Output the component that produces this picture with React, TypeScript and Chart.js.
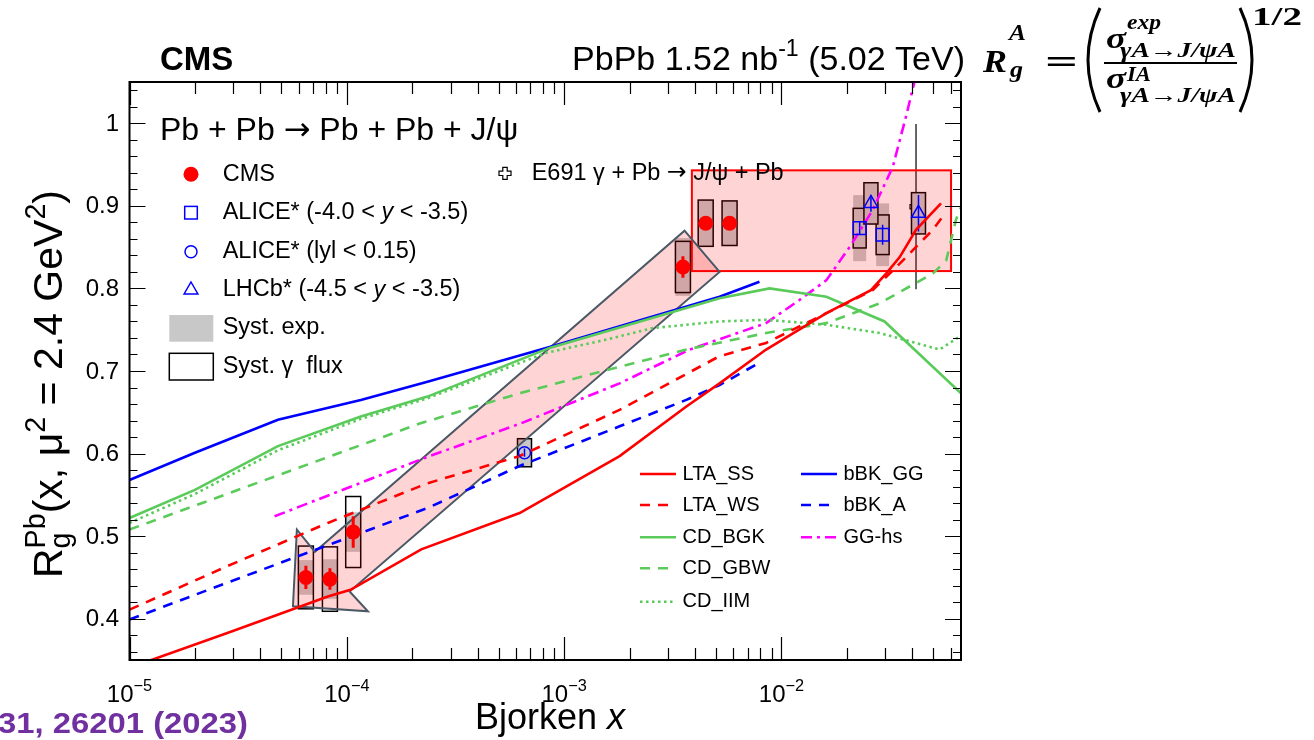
import React, { useEffect, useRef } from 'react';
import { Chart, registerables } from 'chart.js';

Chart.register(...registerables);

const SANS = '"Liberation Sans", Arial, Helvetica, sans-serif';
const SERIF = '"Liberation Serif", "Times New Roman", serif';
const DEJAVU = '"DejaVu Sans", sans-serif';

// ---- axes ----
const xRange = [1e-5, 0.067];
const yRange = [0.35, 1.05];
const xDecades = [1e-5, 1e-4, 1e-3, 1e-2];
const xDecadeExps = ['\u22125', '\u22124', '\u22123', '\u22122'];
const yMajor = [0.4, 0.5, 0.6, 0.7, 0.8, 0.9, 1.0];
const yMajorLabels = ['0.4', '0.5', '0.6', '0.7', '0.8', '0.9', '1'];

// ---- CMS data ----
const cmsX = [6.48e-5, 8.36e-5, 1.07e-4, 3.52e-3, 4.48e-3, 5.77e-3];
const cmsY = [0.45, 0.448, 0.505, 0.826, 0.879, 0.879];
const cmsStat = [0.014, 0.013, 0.019, 0.013, 0.006, 0.006];
const cmsSystExp = [0.021, 0.024, 0.024, 0.035, 0.028, 0.027];
const cmsSystFlux = [0.038, 0.039, 0.043, 0.031, 0.028, 0.027];

// ---- ALICE forward (-4.0 < y < -3.5) ----
const aliceFwdX = [0.0229, 0.0292];
const aliceFwdY = [0.873, 0.865];
const aliceFwdStat = [0.008, 0.012];
const aliceFwdSystExp = [0.04, 0.038];
const aliceFwdSystFlux = [0.024, 0.024];

// ---- ALICE central (|y| < 0.15) ----
const aliceCenX = [6.57e-4];
const aliceCenY = [0.601];
const aliceCenStat = [0.005];
const aliceCenSystExp = [0.017];
const aliceCenSystFlux = [0.017];

// ---- LHCb ----
const lhcbX = [0.0258, 0.0427];
const lhcbY = [0.903, 0.891];
const lhcbStat = [0.01, 0.022];
const lhcbSystExp = [0.025, 0.025];
const lhcbSystFlux = [0.025, 0.025];

// ---- E691 ----
const e691X = [0.0416];
const e691Y = [0.899];
const e691Err = [0.1];

// ---- shaded regions ----
const rectX = [3.87e-3, 0.0603];
const rectY = [0.821, 0.943];
const arrowX = [5.89e-5, 7.13e-5, 3.58e-3, 5.19e-3, 1.03e-4, 1.25e-4, 5.65e-5];
const arrowY = [0.508, 0.481, 0.87, 0.82, 0.433, 0.409, 0.415];

// ---- model curves ----
const ltaSsX = [1.2e-5, 2.84e-5, 8.18e-5, 1.04e-4, 2.2e-4, 6.24e-4, 1.8e-3, 3.65e-3, 5.19e-3, 8.5e-3, 1.61e-2, 2.58e-2, 3.03e-2, 3.5e-2, 4.16e-2, 5.42e-2];
const ltaSsY = [0.348, 0.383, 0.427, 0.435, 0.484, 0.528, 0.597, 0.657, 0.685, 0.726, 0.77, 0.798, 0.818, 0.838, 0.871, 0.903];

const ltaWsX = [1e-5, 2.84e-5, 8.18e-5, 2.35e-4, 6.24e-4, 1.8e-3, 5.19e-3, 8.5e-3, 1.61e-2, 2.63e-2, 3.5e-2, 4.97e-2, 5.52e-2];
const ltaWsY = [0.411, 0.464, 0.516, 0.564, 0.597, 0.653, 0.718, 0.734, 0.77, 0.798, 0.83, 0.871, 0.887];

const cdBgkX = [1e-5, 2e-5, 4.82e-5, 1.16e-4, 2.35e-4, 8.57e-4, 5.19e-3, 8.81e-3, 1.61e-2, 2.98e-2, 6.7e-2];
const cdBgkY = [0.522, 0.556, 0.609, 0.645, 0.669, 0.728, 0.788, 0.8, 0.79, 0.76, 0.673];

const cdGbwX = [1e-5, 2.2e-4, 6.24e-4, 1.56e-3, 3.65e-3, 8.5e-3, 1.61e-2, 2.83e-2, 4.97e-2, 5.73e-2, 6.35e-2, 7e-2];
const cdGbwY = [0.508, 0.637, 0.673, 0.701, 0.726, 0.746, 0.758, 0.782, 0.818, 0.834, 0.883, 0.911];

const cdIimX = [1e-5, 2e-5, 4.82e-5, 1.16e-4, 2.35e-4, 8.28e-4, 1.56e-3, 2.56e-3, 5.19e-3, 8.5e-3, 1.61e-2, 2.83e-2, 5.34e-2, 7e-2];
const cdIimY = [0.516, 0.551, 0.604, 0.642, 0.667, 0.722, 0.738, 0.752, 0.76, 0.762, 0.756, 0.746, 0.726, 0.746];

const bbkGgX = [1e-5, 2e-5, 4.82e-5, 1.16e-4, 2.35e-4, 8.57e-4, 5.19e-3, 7.92e-3];
const bbkGgY = [0.568, 0.601, 0.641, 0.665, 0.687, 0.729, 0.79, 0.808];

const bbkAX = [1e-5, 2.84e-5, 2.35e-4, 6.24e-4, 1.8e-3, 3.65e-3, 5.19e-3, 7.92e-3];
const bbkAY = [0.399, 0.444, 0.534, 0.585, 0.633, 0.665, 0.683, 0.71];

const ggHsX = [4.65e-5, 2.35e-4, 6.24e-4, 1.8e-3, 3.78e-3, 8.5e-3, 1.21e-2, 1.61e-2, 2.07e-2, 2.63e-2, 3.25e-2, 3.74e-2, 4.09e-2, 4.3e-2];
const ggHsY = [0.524, 0.596, 0.636, 0.685, 0.726, 0.758, 0.786, 0.81, 0.851, 0.895, 0.947, 1.008, 1.05, 1.08];

// ---- styles ----
const RED = '#ff0000';
const BLUE = '#0000ff';
const GREEN = '#5acb5a';
const MAGENTA = '#ff00ff';
const PINK = 'rgba(255,0,0,0.17)';
const GRAY = '#c8c8c8';
const SLATE = '#4b5866';
const DASH = [10, 8];
const DOT = [2.5, 3.5];
const DASHDOT = [11, 5, 3, 5];

const pts = (xs: number[], ys: number[]) => xs.map((x, i) => ({ x, y: ys[i] }));

const curve = (label: string, xs: number[], ys: number[], color: string, dash: number[]) => ({
  label,
  data: pts(xs, ys),
  showLine: true,
  borderColor: color,
  backgroundColor: color,
  borderWidth: 2.6,
  borderDash: dash,
  pointRadius: 0,
  fill: false,
  tension: 0,
  clip: 0,
  order: 2,
});

type Seg = { t?: string; s?: number; dy?: number; i?: boolean; b?: boolean; sup?: string; sub?: string; f?: string };

function segFont(seg: Seg, base: number, fam: string, scale = 1) {
  return `${seg.i ? 'italic ' : ''}${seg.b ? 'bold ' : ''}${(base * scale).toFixed(1)}px ${seg.f ?? fam}`;
}

function segWidth(ctx: CanvasRenderingContext2D, seg: Seg, base: number, fam: string) {
  if (seg.sup !== undefined || seg.sub !== undefined) {
    ctx.font = segFont(seg, base, fam, 0.7);
    return Math.max(ctx.measureText(seg.sup || '').width, ctx.measureText(seg.sub || '').width);
  }
  ctx.font = segFont(seg, base, fam, seg.s ?? 1);
  return ctx.measureText(seg.t || '').width;
}

function drawRich(ctx: CanvasRenderingContext2D, segs: Seg[], x: number, y: number, base: number, fam: string, align: 'left' | 'center' | 'right' = 'left') {
  let w = 0;
  for (const s of segs) w += segWidth(ctx, s, base, fam);
  let cx = align === 'left' ? x : align === 'center' ? x - w / 2 : x - w;
  ctx.textAlign = 'left';
  for (const s of segs) {
    const sw = segWidth(ctx, s, base, fam);
    if (s.sup !== undefined || s.sub !== undefined) {
      ctx.font = segFont(s, base, fam, 0.7);
      if (s.sup) ctx.fillText(s.sup, cx, y - 0.42 * base);
      if (s.sub) ctx.fillText(s.sub, cx, y + 0.2 * base);
    } else {
      ctx.font = segFont(s, base, fam, s.s ?? 1);
      ctx.fillText(s.t || '', cx, y + (s.dy ?? 0) * base);
    }
    cx += sw;
  }
}

function fitText(ctx: CanvasRenderingContext2D, text: string, x: number, y: number, font: string, width?: number) {
  ctx.font = font;
  ctx.textAlign = 'left';
  if (width) {
    const w = ctx.measureText(text).width;
    ctx.save();
    ctx.translate(x, y);
    ctx.scale(width / w, 1);
    ctx.fillText(text, 0, 0);
    ctx.restore();
  } else {
    ctx.fillText(text, x, y);
  }
}

function openCross(ctx: CanvasRenderingContext2D, x: number, y: number, L: number, h: number) {
  const p = [[-h, -L], [h, -L], [h, -h], [L, -h], [L, h], [h, h], [h, L], [-h, L], [-h, h], [-L, h], [-L, -h], [-h, -h]];
  ctx.beginPath();
  p.forEach(([a, b], i) => (i ? ctx.lineTo(x + a, y + b) : ctx.moveTo(x + a, y + b)));
  ctx.closePath();
  ctx.fillStyle = '#fff';
  ctx.fill();
  ctx.stroke();
}

const rootPlugin = {
  id: 'rootStyle',
  beforeDatasetsDraw(chart: any) {
    const { ctx, chartArea: a } = chart;
    const X = (v: number) => chart.scales.x.getPixelForValue(v);
    const Y = (v: number) => chart.scales.y.getPixelForValue(v);
    ctx.save();
    ctx.beginPath();
    ctx.rect(a.left, a.top, a.right - a.left, a.bottom - a.top);
    ctx.clip();

    // E691 point
    ctx.strokeStyle = '#000';
    ctx.lineWidth = 1.2;
    e691X.forEach((x, i) => {
      const px = X(x);
      ctx.beginPath();
      ctx.moveTo(px, Y(e691Y[i] - e691Err[i]));
      ctx.lineTo(px, Y(e691Y[i] + e691Err[i]));
      ctx.stroke();
      openCross(ctx, px, Y(e691Y[i]), 6, 2.2);
    });

    // systematic boxes
    const boxes = (xs: number[], ys: number[], exp: number[], flux: number[], hw: number) => {
      xs.forEach((x, i) => {
        const px = X(x);
        ctx.fillStyle = GRAY;
        const t1 = Y(ys[i] + exp[i]), b1 = Y(ys[i] - exp[i]);
        ctx.fillRect(px - hw, t1, 2 * hw, b1 - t1);
      });
      xs.forEach((x, i) => {
        const px = X(x);
        ctx.strokeStyle = '#000';
        ctx.lineWidth = 1.5;
        const t2 = Y(ys[i] + flux[i]), b2 = Y(ys[i] - flux[i]);
        ctx.strokeRect(px - hw, t2, 2 * hw, b2 - t2);
      });
    };
    boxes(cmsX, cmsY, cmsSystExp, cmsSystFlux, 7.5);
    boxes(aliceCenX, aliceCenY, aliceCenSystExp, aliceCenSystFlux, 7);
    boxes(aliceFwdX, aliceFwdY, aliceFwdSystExp, aliceFwdSystFlux, 6.5);
    boxes(lhcbX, lhcbY, lhcbSystExp, lhcbSystFlux, 7);

    // pink rectangle
    const rx0 = X(rectX[0]), rx1 = X(rectX[1]), ry0 = Y(rectY[1]), ry1 = Y(rectY[0]);
    ctx.fillStyle = PINK;
    ctx.fillRect(rx0, ry0, rx1 - rx0, ry1 - ry0);
    ctx.strokeStyle = RED;
    ctx.lineWidth = 2;
    ctx.strokeRect(rx0, ry0, rx1 - rx0, ry1 - ry0);

    // arrow polygon
    ctx.beginPath();
    arrowX.forEach((x, i) => (i ? ctx.lineTo(X(x), Y(arrowY[i])) : ctx.moveTo(X(x), Y(arrowY[i]))));
    ctx.closePath();
    ctx.fillStyle = PINK;
    ctx.fill();
    ctx.strokeStyle = SLATE;
    ctx.lineWidth = 2;
    ctx.stroke();

    // stat error bars
    const bars = (xs: number[], ys: number[], err: number[], color: string, w: number) => {
      ctx.strokeStyle = color;
      ctx.lineWidth = w;
      xs.forEach((x, i) => {
        const px = X(x);
        ctx.beginPath();
        ctx.moveTo(px, Y(ys[i] - err[i]));
        ctx.lineTo(px, Y(ys[i] + err[i]));
        ctx.stroke();
      });
    };
    bars(cmsX, cmsY, cmsStat, RED, 3);
    bars(aliceFwdX, aliceFwdY, aliceFwdStat, BLUE, 1.5);
    bars(aliceCenX, aliceCenY, aliceCenStat, BLUE, 1.5);
    bars(lhcbX, lhcbY, lhcbStat, BLUE, 1.5);
    ctx.restore();
  },
  afterDraw(chart: any) {
    const { ctx, chartArea: a } = chart;
    const X = (v: number) => chart.scales.x.getPixelForValue(v);
    const Y = (v: number) => chart.scales.y.getPixelForValue(v);
    ctx.save();
    ctx.textBaseline = 'alphabetic';
    ctx.fillStyle = '#000';
    ctx.strokeStyle = '#000';

    // ticks
    ctx.lineWidth = 1.2;
    ctx.beginPath();
    for (let k = -5; k <= -2; k++) {
      for (let m = 1; m <= 9; m++) {
        const v = m * Math.pow(10, k);
        if (v < xRange[0] || v > xRange[1]) continue;
        const px = Math.round(X(v)) + 0.5;
        const len = m === 1 ? 23 : 12;
        ctx.moveTo(px, a.bottom);
        ctx.lineTo(px, a.bottom - len);
        ctx.moveTo(px, a.top);
        ctx.lineTo(px, a.top + len);
      }
    }
    for (let i = 18; i <= 52; i++) {
      const v = i / 50;
      const py = Math.round(Y(v)) + 0.5;
      const len = i % 5 === 0 ? 16 : 8;
      ctx.moveTo(a.left, py);
      ctx.lineTo(a.left + len, py);
      ctx.moveTo(a.right, py);
      ctx.lineTo(a.right - len, py);
    }
    ctx.stroke();
    ctx.lineWidth = 2;
    ctx.strokeRect(a.left, a.top, a.right - a.left, a.bottom - a.top);

    // tick labels
    xDecades.forEach((v, i) => {
      drawRich(ctx, [{ t: '10' }, { t: xDecadeExps[i], s: 0.68, dy: -0.45 }], X(v), 702, 24, SANS, 'center');
    });
    ctx.font = `24px ${SANS}`;
    ctx.textAlign = 'right';
    ctx.textBaseline = 'middle';
    yMajor.forEach((v, i) => ctx.fillText(yMajorLabels[i], 119, Y(v) + 1));
    ctx.textBaseline = 'alphabetic';

    // axis titles
    drawRich(ctx, [{ t: 'Bjorken ' }, { t: 'x', i: true }], 550, 729, 36, SANS, 'center');
    ctx.save();
    ctx.translate(62, 384);
    ctx.rotate(-Math.PI / 2);
    drawRich(ctx, [
      { t: 'R' }, { sup: 'Pb', sub: 'g' }, { t: '(x, \u03bc' }, { t: '2', s: 0.7, dy: -0.42 },
      { t: ' = 2.4 GeV' }, { t: '2', s: 0.7, dy: -0.42 }, { t: ')' },
    ], 0, 0, 41, SANS, 'center');
    ctx.restore();

    // header
    ctx.font = `bold 33px ${SANS}`;
    ctx.textAlign = 'left';
    ctx.fillText('CMS', 160, 70);
    drawRich(ctx, [{ t: 'PbPb 1.52 nb' }, { t: '-1', s: 0.68, dy: -0.42 }, { t: ' (5.02 TeV)' }], 965, 70, 34, SANS, 'right');

    // process title
    drawRich(ctx, [{ t: 'Pb + Pb ' }, { t: '\u2192', f: DEJAVU }, { t: ' Pb + Pb + J/\u03c8' }], 160, 140, 32, SANS);

    // top-left legend
    const lx = 191, tx = 222.7;
    const rows = [174.3, 212.7, 251.7, 290, 328, 366.7];
    ctx.textBaseline = 'middle';
    ctx.fillStyle = RED;
    ctx.beginPath();
    ctx.arc(lx, rows[0], 7.5, 0, Math.PI * 2);
    ctx.fill();
    ctx.strokeStyle = BLUE;
    ctx.lineWidth = 1.5;
    ctx.strokeRect(lx - 6.3, rows[1] - 6.3, 12.6, 12.6);
    ctx.beginPath();
    ctx.arc(lx, rows[2], 6, 0, Math.PI * 2);
    ctx.stroke();
    ctx.beginPath();
    ctx.moveTo(lx, rows[3] - 8);
    ctx.lineTo(lx + 6.9, rows[3] + 4);
    ctx.lineTo(lx - 6.9, rows[3] + 4);
    ctx.closePath();
    ctx.stroke();
    ctx.fillStyle = GRAY;
    ctx.fillRect(169.3, 315, 44, 26.7);
    ctx.strokeStyle = '#000';
    ctx.lineWidth = 1.5;
    ctx.strokeRect(169.3, 353.3, 44, 26.7);
    ctx.fillStyle = '#000';
    const LF = 23.5;
    drawRich(ctx, [{ t: 'CMS' }], tx, rows[0], LF, SANS);
    drawRich(ctx, [{ t: 'ALICE* (-4.0 < ' }, { t: 'y', i: true }, { t: ' < -3.5)' }], tx, rows[1], LF, SANS);
    drawRich(ctx, [{ t: 'ALICE* (lyl < 0.15)' }], tx, rows[2], LF, SANS);
    drawRich(ctx, [{ t: 'LHCb* (-4.5 < ' }, { t: 'y', i: true }, { t: ' < -3.5)' }], tx, rows[3], LF, SANS);
    drawRich(ctx, [{ t: 'Syst. exp.' }], tx, rows[4], LF, SANS);
    drawRich(ctx, [{ t: 'Syst. \u03b3  flux' }], tx, rows[5], LF, SANS);

    // E691 legend
    ctx.strokeStyle = '#000';
    ctx.lineWidth = 1.2;
    openCross(ctx, 505, 173.3, 6, 2.2);
    ctx.fillStyle = '#000';
    drawRich(ctx, [{ t: 'E691 \u03b3 + Pb ' }, { t: '\u2192', f: DEJAVU }, { t: ' J/\u03c8 + Pb' }], 531.7, 173.3, LF, SANS);

    // model legend
    const models = [
      { c: RED, d: [] as number[], t: 'LTA_SS', x: 640, y: 474 },
      { c: RED, d: DASH, t: 'LTA_WS', x: 640, y: 505 },
      { c: GREEN, d: [] as number[], t: 'CD_BGK', x: 640, y: 537.3 },
      { c: GREEN, d: DASH, t: 'CD_GBW', x: 640, y: 568.3 },
      { c: GREEN, d: DOT, t: 'CD_IIM', x: 640, y: 601.7 },
      { c: BLUE, d: [] as number[], t: 'bBK_GG', x: 801, y: 474 },
      { c: BLUE, d: DASH, t: 'bBK_A', x: 801, y: 505 },
      { c: MAGENTA, d: DASHDOT, t: 'GG-hs', x: 801, y: 537.3 },
    ];
    models.forEach((m) => {
      ctx.strokeStyle = m.c;
      ctx.lineWidth = 2.6;
      ctx.setLineDash(m.d);
      ctx.beginPath();
      ctx.moveTo(m.x, m.y);
      ctx.lineTo(m.x + 36, m.y);
      ctx.stroke();
      ctx.setLineDash([]);
      ctx.fillStyle = '#000';
      drawRich(ctx, [{ t: m.t }], m.x + 42.5, m.y, 20, SANS);
    });
    ctx.textBaseline = 'alphabetic';

    // formula
    const FB = `bold italic`;
    ctx.fillStyle = '#000';
    fitText(ctx, 'R', 983, 72, `${FB} 32px ${SERIF}`, 24);
    fitText(ctx, 'A', 1009, 40, `${FB} 24px ${SERIF}`, 17);
    fitText(ctx, 'g', 1010, 77, `${FB} 24px ${SERIF}`, 13);
    fitText(ctx, '=', 1045, 73, `bold 34px ${SERIF}`, 33);
    ctx.strokeStyle = '#000';
    ctx.lineWidth = 3;
    ctx.beginPath();
    ctx.moveTo(1100, 8);
    ctx.quadraticCurveTo(1076, 60, 1100, 112);
    ctx.stroke();
    ctx.beginPath();
    ctx.moveTo(1240, 8);
    ctx.quadraticCurveTo(1264, 60, 1240, 112);
    ctx.stroke();
    fitText(ctx, '\u03c3', 1106, 48, `${FB} 30px ${SERIF}`, 20);
    fitText(ctx, 'exp', 1127, 29, `${FB} 22px ${SERIF}`, 34);
    fitText(ctx, '\u03b3A\u2192J/\u03c8A', 1120, 57, `${FB} 21px ${SERIF}`, 116);
    ctx.lineWidth = 2;
    ctx.beginPath();
    ctx.moveTo(1104, 63);
    ctx.lineTo(1237, 63);
    ctx.stroke();
    fitText(ctx, '\u03c3', 1106, 88, `${FB} 30px ${SERIF}`, 20);
    fitText(ctx, 'IA', 1127, 81, `${FB} 22px ${SERIF}`, 24);
    fitText(ctx, '\u03b3A\u2192J/\u03c8A', 1120, 102, `${FB} 21px ${SERIF}`, 116);
    fitText(ctx, '1/2', 1252, 25, `bold 25px ${SERIF}`, 50);

    // reference
    ctx.fillStyle = '#7030a0';
    fitText(ctx, '31, 26201 (2023)', -2, 733, `bold 30px ${SANS}`, 250);
    ctx.restore();
  },
};

export default function App() {
  const ref = useRef<HTMLCanvasElement>(null);
  useEffect(() => {
    const canvas = ref.current;
    if (!canvas) return;
    const datasets: any[] = [
      { label: 'CMS', data: pts(cmsX, cmsY), pointStyle: 'circle', pointRadius: 7.5, backgroundColor: RED, borderColor: RED, borderWidth: 0, order: 0 },
      { label: 'ALICE* (-4.0 < y < -3.5)', data: pts(aliceFwdX, aliceFwdY), pointStyle: 'rect', pointRadius: 9, backgroundColor: 'rgba(0,0,0,0)', borderColor: BLUE, borderWidth: 1.5, order: 0 },
      { label: 'ALICE* (|y| < 0.15)', data: pts(aliceCenX, aliceCenY), pointStyle: 'circle', pointRadius: 6, backgroundColor: 'rgba(0,0,0,0)', borderColor: BLUE, borderWidth: 1.5, order: 0 },
      { label: 'LHCb* (-4.5 < y < -3.5)', data: pts(lhcbX, lhcbY), pointStyle: 'triangle', pointRadius: 8, backgroundColor: 'rgba(0,0,0,0)', borderColor: BLUE, borderWidth: 1.5, order: 0 },
      curve('LTA_SS', ltaSsX, ltaSsY, RED, []),
      curve('LTA_WS', ltaWsX, ltaWsY, RED, DASH),
      curve('CD_BGK', cdBgkX, cdBgkY, GREEN, []),
      curve('CD_GBW', cdGbwX, cdGbwY, GREEN, DASH),
      curve('CD_IIM', cdIimX, cdIimY, GREEN, DOT),
      curve('bBK_GG', bbkGgX, bbkGgY, BLUE, []),
      curve('bBK_A', bbkAX, bbkAY, BLUE, DASH),
      curve('GG-hs', ggHsX, ggHsY, MAGENTA, DASHDOT),
    ];
    const chart = new Chart(canvas, {
      type: 'scatter',
      data: { datasets },
      options: {
        responsive: false,
        maintainAspectRatio: false,
        animation: false,
        devicePixelRatio: 1,
        events: [],
        layout: { padding: { left: 129.5, right: 353, top: 82, bottom: 80 } },
        scales: {
          x: { type: 'logarithmic', min: xRange[0], max: xRange[1], display: false },
          y: { type: 'linear', min: yRange[0], max: yRange[1], display: false },
        },
        plugins: { legend: { display: false }, tooltip: { enabled: false } },
      } as any,
      plugins: [rootPlugin],
    });
    return () => chart.destroy();
  }, []);
  return (
    <div style={{ position: 'absolute', left: 0, top: 0, width: 1314, height: 740, background: '#fff' }}>
      <canvas ref={ref} width={1314} height={740} style={{ width: 1314, height: 740, display: 'block' }} />
    </div>
  );
}
